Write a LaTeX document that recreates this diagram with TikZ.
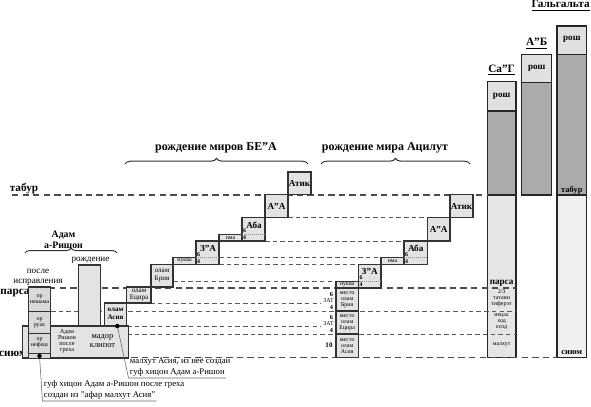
\documentclass[tikz,border=0pt]{standalone}
\usepackage{fontspec}
\setmainfont{Liberation Serif}
\usetikzlibrary{decorations.pathreplacing}

\begin{document}
\begin{tikzpicture}[x=0.025cm, y=-0.025cm,
    box/.style={draw=black!80, fill=black!11, line width=0.8pt},
    col/.style={draw=black!85, line width=1pt},
    heavy/.style={draw=black!70, line width=1pt, dash pattern=on 4.5pt off 3pt},
    fine/.style={draw=black!65, line width=0.55pt, dash pattern=on 3.2pt off 2.3pt},
    split/.style={draw=black!45, line width=0.4pt, dash pattern=on 0.6pt off 0.8pt},
    brc/.style={decorate, decoration={brace, amplitude=4pt}, line width=0.7pt, draw=black!80},
    leader/.style={draw=black!60, line width=0.4pt},
    mini/.style={font=\fontsize{4.2}{4.3}\selectfont, inner sep=0pt, align=center},
    lab/.style={font=\fontsize{5}{5.3}\selectfont, inner sep=0pt, align=center},
    pname/.style={font=\fontsize{6.5}{7}\selectfont\bfseries, inner sep=0pt, align=center},
    side/.style={font=\fontsize{8}{9}\selectfont\bfseries, inner sep=0pt},
    head/.style={font=\fontsize{8.5}{9}\selectfont\bfseries, inner sep=0pt},
    note/.style={font=\fontsize{6.2}{7}\selectfont, inner sep=0.8pt, anchor=south west},
  ]
    \useasboundingbox (0,0) rectangle (591,407);

    % Гальгальта, А"Б, Са"Г
    \draw[col, fill=black!12] (557,26) rectangle (586.7,54.7);
    \draw[col, fill=black!33] (557,54.7) rectangle (586.7,195);
    \draw[col, fill=black!6] (557,195) rectangle (586.7,357.5);
    \draw[col, fill=black!12] (521.7,54.3) rectangle (551.7,82.7);
    \draw[col, fill=black!33] (521.7,82.7) rectangle (551.7,195);
    \draw[col, fill=black!12] (487.3,81.7) rectangle (516,111);
    \draw[col, fill=black!33] (487.3,111) rectangle (516,195);
    \draw[col, fill=black!10] (487.3,195) rectangle (516,357.5);
    \node[side, anchor=east] (galg) at (590,5.5) {\underline{Гальгальта}};
    \node[side] (ab) at (536.7,43.5) {\underline{А"Б}};
    \node[side] (sag) at (501.6,70) {\underline{Са"Г}};
    \node[pname] (galgrosh) at (571.8,39.5) {рош};
    \node[pname] (abrosh) at (536.7,68.5) {рош};
    \node[pname] (sagrosh) at (501.6,96.5) {рош};
    \node[pname, font=\fontsize{6}{7}\selectfont\bfseries] (galgtab) at (571.8,190) {табур};
    \node[pname, font=\fontsize{6}{7}\selectfont\bfseries] (galgsium) at (571.8,352.5) {сиюм};

    % Уровни
    \node[side] (tabur) at (24,189) {табур};
    \node[side] (parsa) at (15,293) {парса};
    \node[side] (sium) at (13,353.5) {сиюм};
    \draw[heavy] (12,195) -- (487.3,195);
    \draw[fine] (288,217.5) -- (427.5,217.5);
    \draw[fine] (265,241) -- (404,241);
    \draw[fine] (219,257.5) -- (381,257.5);
    \draw[fine] (219,264.5) -- (358.5,264.5);
    \draw[fine] (173,281.5) -- (336,281.5);
    \draw[heavy] (28,288) -- (516,288);
    \draw[fine] (127,303) -- (321,303);
    \draw[fine] (51,311) -- (516,311);
    \draw[fine] (127,326) -- (321,326);
    \draw[fine] (127,334) -- (516,334);
    \draw[heavy] (26,357.5) -- (557,357.5);

    % Са"Г ниже табура
    \node[pname] (sagparsa) at (501.6,283) {парса};
    \node[mini] (tt) at (501.6,298.5) {2/3\\татаин\\тиферэт};
    \node[mini] (nhy) at (501.6,322) {нецах\\ход\\есод};
    \node[mini] (malk) at (501.6,344.5) {малхут};

    % Адам а-Ришон
    \draw[box] (22.7,326) rectangle (128.3,358);
    \node[lab, font=\fontsize{4.4}{4.3}\selectfont] (fall) at (67,341) {Адам\\Ришон\\после\\греха};
    \node[lab, font=\fontsize{6}{6.3}\selectfont] (klipot) at (102.5,341) {мадор\\клипот};
    \draw[box] (78.3,265) rectangle (100.7,326);
    \node[lab, font=\fontsize{6.5}{7}\selectfont] (birth) at (90.5,260) {рождение};
    \draw[box] (104.3,303) rectangle (126.7,326);
    \node[lab, font=\fontsize{5}{5.3}\selectfont\bfseries] (asia) at (115.5,314) {олам\\Асия};
    \draw[box, fill=black!15] (28.3,287) rectangle (50.7,311.7);
    \draw[box, fill=black!15] (28.3,311.7) rectangle (50.7,333.3);
    \draw[box, fill=black!15] (28.3,333.3) rectangle (50.7,353.3);
    \draw[box, fill=black!15] (28.3,353.3) rectangle (50.7,358.3);
    \node[mini] (neshama) at (39.5,299) {ор\\нешама};
    \node[mini] (ruah) at (39.5,322.5) {ор\\руах};
    \node[mini] (nefesh) at (39.5,343) {ор\\нефеш};
    \node[lab, font=\fontsize{6.5}{7}\selectfont] (fix) at (38,277.5) {после\\исправления};
    \node[pname, font=\fontsize{7}{7.5}\selectfont\bfseries] (adam) at (63.5,240) {Адам\\а-Ришон};
    \draw[brc, decoration={amplitude=3.5pt}] (25,253) -- (117,253);

    % Рождение миров БЕ"А
    \node[head] (bea) at (216,148) {рождение миров БЕ"А};
    \draw[brc] (125,164) -- (308,164);
    \draw[box] (126.7,287) rectangle (151,303);
    \node[lab] (yecira) at (139,295) {олам\\Ецира};
    \draw[box] (151,264.5) rectangle (173,287);
    \node[lab] (bria) at (162,275.5) {олам\\Брия};
    \draw[box] (173,257.5) rectangle (196,264.5);
    \node[mini] (nukva) at (184.5,261) {нуква};
    \draw[box] (196,241) rectangle (219,264.5);
    \draw[split] (196,257.5) -- (219,257.5);
    \node[pname] (za) at (208,248.5) {З"А};
    \node[mini, font=\fontsize{4.2}{4.3}\selectfont\bfseries] at (198.5,254.5) {6};
    \node[mini, font=\fontsize{4.2}{4.3}\selectfont\bfseries] at (198.5,261.5) {4};
    \draw[box] (219,234.5) rectangle (242,241);
    \node[mini] (ima) at (230.5,238) {има};
    \draw[box] (242,217.5) rectangle (265,241);
    \draw[split] (242,234.5) -- (265,234.5);
    \node[pname] (aba) at (254,225) {Аба};
    \node[mini, font=\fontsize{4.2}{4.3}\selectfont\bfseries] at (244.5,231) {6};
    \node[mini, font=\fontsize{4.2}{4.3}\selectfont\bfseries] at (244.5,238) {4};
    \draw[box] (265,194.5) rectangle (288,217.5);
    \node[pname] (aa) at (276.5,206) {А"А};
    \draw[box] (288,172) rectangle (311,194.5);
    \node[pname] (atik) at (299.5,183) {Атик};

    % Рождение мира Ацилут
    \node[head] (acilut) at (385,148) {рождение мира Ацилут};
    \draw[brc] (321,164) -- (470,164);
    \draw[box] (336,288) rectangle (358.5,311);
    \node[mini] (mbria) at (347.2,299.5) {место\\олам\\Брия};
    \draw[box] (336,311) rectangle (358.5,334);
    \node[mini] (myec) at (347.2,322.5) {место\\олам\\Ецира};
    \draw[box] (336,334) rectangle (358.5,357.5);
    \node[mini] (masia) at (347.2,345.7) {место\\олам\\Асия};
    \draw[box] (336,281.5) rectangle (358.5,288);
    \node[mini] (nukva2) at (347.2,284.8) {нуква};
    \draw[box] (358.5,264.5) rectangle (381,288);
    \draw[split] (358.5,281.5) -- (381,281.5);
    \node[pname] (za2) at (369.7,272) {З"А};
    \node[mini, font=\fontsize{4.2}{4.3}\selectfont\bfseries] at (361,278) {6};
    \node[mini, font=\fontsize{4.2}{4.3}\selectfont\bfseries] at (361,285) {4};
    \draw[box] (381,257.5) rectangle (404,264.5);
    \node[mini] (ima2) at (392.5,261) {има};
    \draw[box] (404,241) rectangle (427.5,264.5);
    \draw[split] (404,257.5) -- (427.5,257.5);
    \node[pname] (aba2) at (415.7,248.5) {Аба};
    \node[mini, font=\fontsize{4.2}{4.3}\selectfont\bfseries] at (406.5,254.5) {6};
    \node[mini, font=\fontsize{4.2}{4.3}\selectfont\bfseries] at (406.5,261.5) {4};
    \draw[box] (427.5,217.5) rectangle (450,241);
    \node[pname] (aa2) at (438.7,229) {А"А};
    \draw[box] (450,194.5) rectangle (473,217.5);
    \node[pname] (atik2) at (461.5,206) {Атик};

    % 6 / ЗАТ / 4
    \node[mini, font=\fontsize{4.5}{4.6}\selectfont\bfseries] at (331.5,294) {6};
    \node[mini] at (328.5,301) {ЗАТ};
    \node[mini, font=\fontsize{4.5}{4.6}\selectfont\bfseries] at (331.5,307.5) {4};
    \node[mini, font=\fontsize{4.5}{4.6}\selectfont\bfseries] at (331.5,317) {6};
    \node[mini] at (328.5,324) {ЗАТ};
    \node[mini, font=\fontsize{4.5}{4.6}\selectfont\bfseries] at (331.5,330.5) {4};
    \node[mini, font=\fontsize{5}{5}\selectfont\bfseries] at (329,345.5) {10};

    % Выноски
    \coordinate (dotA) at (117.3,326);
    \coordinate (kneeA) at (128.5,378);
    \node[note] (noteA2) at (kneeA) {гуф хицон Адам а-Ришон};
    \node[note] (noteA1) at (noteA2.north west) {малхут Асия, из неё создан};
    \draw[leader] (dotA) -- (kneeA) -- (noteA2.south east);
    \fill[black] (dotA) circle (1.6pt);

    \coordinate (dotB) at (39.5,356);
    \coordinate (kneeB) at (42.5,401);
    \node[note] (noteB2) at (kneeB) {создан из "афар малхут Асия"};
    \node[note] (noteB1) at (noteB2.north west) {гуф хицон Адам а-Ришон после греха};
    \draw[leader] (dotB) -- (kneeB) -- (noteB2.south east);
    \fill[black] (dotB) circle (1.6pt);
  \end{tikzpicture}
\end{document}
